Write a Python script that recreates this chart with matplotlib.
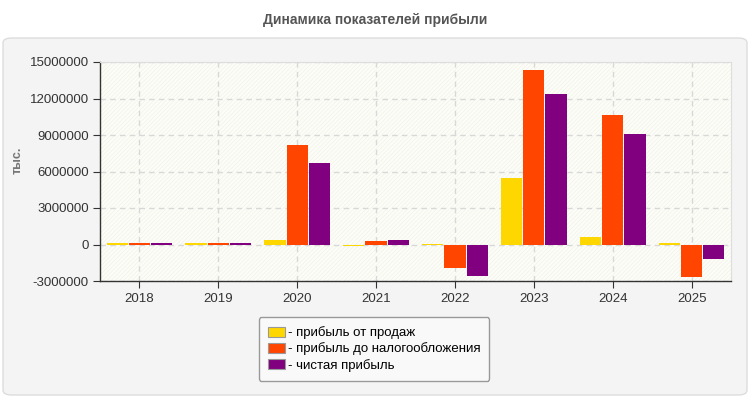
import matplotlib.pyplot as plt
import numpy as np
from matplotlib.patches import FancyBboxPatch, Rectangle

plt.rcParams['font.family'] = ['Liberation Sans', 'DejaVu Sans']
plt.rcParams['hatch.linewidth'] = 0.5

# data (тыс.)
years = ["2018", "2019", "2020", "2021", "2022", "2023", "2024", "2025"]
sales_profit = [150000, 130000, 330000, -100000, 50000, 5500000, 650000, 150000]
pretax_profit = [150000, 130000, 8180000, 250000, -1900000, 14350000, 10640000, -2700000]
net_profit = [150000, 130000, 6700000, 400000, -2600000, 12370000, 9080000, -1200000]

series_names = ["- прибыль от продаж", "- прибыль до налогообложения", "- чистая прибыль"]
colors = ["#FFD700", "#FF4500", "#800080"]
y_ticks = [-3000000, 0, 3000000, 6000000, 9000000, 12000000, 15000000]

fig = plt.figure(figsize=(7.5, 4), dpi=100)
fig.patch.set_facecolor("white")

# rounded grey panel behind the chart
panel = FancyBboxPatch((3 / 750, 5 / 400), 744 / 750, 357 / 400,
                       boxstyle="round,pad=0,rounding_size=0.012",
                       transform=fig.transFigure, facecolor="#f4f4f4",
                       edgecolor="#dddddd", linewidth=1, zorder=-5)
fig.patches.append(panel)

fig.text(0.5, 1 - 20 / 400, "Динамика показателей прибыли", ha="center", va="center",
         fontsize=10, fontweight="bold", color="#555555")

ax = fig.add_axes([100 / 750, 1 - 281 / 400, 631 / 750, 219 / 400])
ax.set_zorder(2)
ax.set_facecolor("#fdfdf8")
ax.add_patch(Rectangle((0, 0), 1, 1, transform=ax.transAxes, facecolor="none",
                       edgecolor="#f2f2eb", hatch="////////", linewidth=0, zorder=0))

x = np.arange(len(years))
w = 0.27
for i, (vals, c, name) in enumerate(zip([sales_profit, pretax_profit, net_profit], colors, series_names)):
    ax.bar(x + (i - 1) * (w + 0.012), vals, width=w, color=c, label=name, zorder=3)

ax.set_xlim(-0.5, len(years) - 0.5)
ax.set_ylim(-3000000, 15000000)
ax.set_xticks(x)
ax.set_xticklabels(years)
ax.set_yticks(y_ticks)
ax.set_yticklabels([str(v) for v in y_ticks])
ax.tick_params(axis="both", labelsize=9.5, colors="#333333", length=5, width=0.8)
ax.tick_params(axis="y", pad=3)
ax.grid(True, color="#d8d8d8", linestyle=(0, (4, 3)), linewidth=1, zorder=1)
ax.set_axisbelow(True)

for s in ["top", "right"]:
    ax.spines[s].set_color("#dddddd")
for s in ["left", "bottom"]:
    ax.spines[s].set_color("#333333")
    ax.spines[s].set_linewidth(1)

fig.text(18 / 750, 1 - 160 / 400, "тыс.", rotation=90, ha="center", va="center",
         fontsize=9, fontweight="bold", color="#777777")

leg = fig.legend(loc="center", bbox_to_anchor=(374 / 750, 1 - 349 / 400), fontsize=9.5,
                 frameon=True, fancybox=True, edgecolor="#999999", facecolor="#f9f9f9",
                 handlelength=1.3, handleheight=0.8, handletextpad=0.2, labelspacing=0.25,
                 borderpad=0.7, framealpha=1)
leg.set_zorder(5)
for h in leg.legend_handles:
    h.set_edgecolor("#999999")
    h.set_linewidth(0.8)

fig.savefig("out.png", dpi=100)
